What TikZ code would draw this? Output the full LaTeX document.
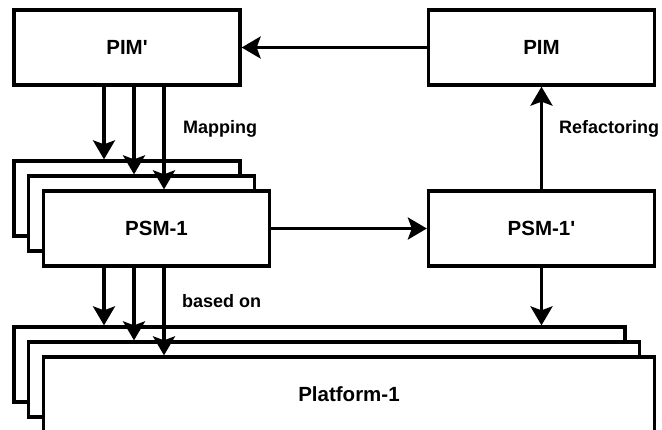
\documentclass[tikz,border=0pt]{standalone}
\usepackage{fontspec}
\setmainfont{Liberation Sans}
\usetikzlibrary{arrows.meta,positioning}

\begin{document}
\begin{tikzpicture}[x=1pt,y=-1pt]
%----------estilos---------
\tikzset{caja/.style={
rectangle,
draw,
fill=white,
line width=3.3pt,
inner sep=0pt,
minimum width=226pt,
minimum height=75pt,
font=\fontsize{20.5}{24}\selectfont\bfseries},
plataforma/.style={caja,minimum width=611pt},
flecha/.style={line width=3.3pt,-{Stealth[length=19pt,width=22pt,inset=4pt]}},
etiqueta/.style={anchor=base west,inner sep=0pt,font=\fontsize{18}{22}\selectfont\bfseries}};

\useasboundingbox (0,0) rectangle (662,429);

%------------ modelos ---------------
\node [caja] (pimp) at (127,47.5) {PIM\textquotesingle};
\node [caja] (pim) at (541.5,47.5) {PIM};
\node [caja] (psmA) at (127,198.5) {};
\node [caja] (psmB) at (141.5,213.5) {};
\node [caja] (psm) at (156.5,228.5) {PSM-1};
\node [caja] (psmp) at (541.5,228.5) {PSM-1\textquotesingle};

%------------ plataformas ---------------
\node [plataforma] (platA) at (319.5,364.5) {};
\node [plataforma] (platB) at (334,379.5) {};
\node [plataforma] (plat) at (349,394.5) {Platform-1};

% -----------flechas----------------
\coordinate (f1) at (104,0);
\coordinate (f2) at (134,0);
\coordinate (f3) at (164,0);

\draw [flecha] (pim.west) -- (pimp.east);
\draw [flecha] (psm.east) -- (psmp.west);
\draw [flecha] (psmp.north) -- (pim.south);
\draw [flecha] (psmp.south) -- (platA.north -| psmp.south);

%mapping
\draw [flecha] (pimp.south -| f1) -- (psmA.north -| f1);
\draw [flecha] (pimp.south -| f2) -- (psmB.north -| f2);
\draw [flecha] (pimp.south -| f3) -- (psm.north -| f3);

%based on
\draw [flecha] (psm.south -| f1) -- (platA.north -| f1);
\draw [flecha] (psm.south -| f2) -- (platB.north -| f2);
\draw [flecha] (psm.south -| f3) -- (plat.north -| f3);

\node [etiqueta] (mapping) at (183,133) {Mapping};
\node [etiqueta] (refactoring) at (559,133) {Refactoring};
\node [etiqueta] (basedon) at (182,307) {based on};
\end{tikzpicture}
\end{document}
